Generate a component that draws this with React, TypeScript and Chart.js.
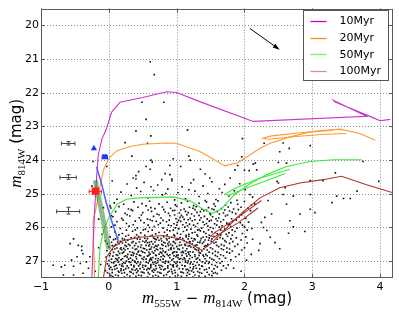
import React, { useEffect, useRef } from "react";
import { Chart, registerables } from "chart.js";
Chart.register(...registerables);

type P = [number, number];

const xTicks = [-1, 0, 1, 2, 3, 4];
const yTicks = [20, 21, 22, 23, 24, 25, 26, 27];
const xRange = [-1, 4.19];
const yRange = [19.5, 27.5];

const legendLabels = ["10Myr", "20Myr", "50Myr", "100Myr"];
const legendColors = ["#cc00cc", "#ff8a10", "#66ff55", "#d09090"];
const lineColors = ["#cc33cc", "#ff9a30", "#3ee83e", "#b0302e"];

const iso10: P[] = [[-0.25,27.5],[-0.23,26.5],[-0.21,25.5],[-0.18,24.5],[-0.155,23.84],[-0.1,23.36],[-0.04,23.1],[0.04,22.58],[0.165,22.28],[0.5,22.14],[0.85,21.97],[1.0,21.99],[1.35,22.27],[2.13,22.85],[3.8,22.7],[3.31,22.22],[3.33,22.27],[3.92,22.76],[4.0,22.83],[4.15,22.79]];
const iso20: P[] = [[-0.21,27.5],[-0.22,26.6],[-0.23,25.75],[-0.2,25.55],[-0.15,25.0],[-0.08,24.3],[0.0,23.95],[0.12,23.72],[0.3,23.6],[0.5,23.53],[0.85,23.49],[1.0,23.5],[1.35,23.75],[1.55,23.98],[1.71,24.17],[1.9,24.08],[2.08,23.85],[2.23,23.65],[2.38,23.5],[2.67,23.31],[3.02,23.14],[3.41,23.08],[3.7,23.21],[3.93,23.41]];
const iso20Loop: P[] = [[3.3,23.12],[2.9,23.17],[2.4,23.28],[2.27,23.35],[2.35,23.38],[2.8,23.29],[3.2,23.23],[3.5,23.21]];
const iso50: P[] = [[-0.155,27.5],[-0.13,26.6],[-0.08,26.1],[0.0,25.7],[0.12,25.31],[0.26,25.16],[0.46,25.12],[0.95,25.09],[1.2,25.21],[1.39,25.46],[1.52,25.58],[1.66,25.45],[1.84,25.05],[2.08,24.7],[2.33,24.43],[2.62,24.19],[2.97,24.04],[3.31,23.99],[3.73,23.99]];
const iso50Loop: P[] = [[2.67,24.27],[2.2,24.55],[1.85,24.85],[1.72,25.0],[1.76,25.05],[2.0,24.85],[2.4,24.55],[2.6,24.4]];
const iso100: P[] = [[-0.08,27.5],[-0.03,26.87],[0.07,26.58],[0.21,26.39],[0.46,26.29],[0.8,26.24],[1.05,26.34],[1.25,26.53],[1.37,26.68],[1.49,26.5],[1.72,26.05],[1.97,25.55],[2.23,25.12],[2.52,24.82],[2.82,24.68],[3.16,24.58],[3.43,24.48],[3.8,24.73],[4.19,24.97]];
const iso100Loop: P[] = [[2.25,25.2],[1.9,25.7],[1.6,26.1],[1.5,26.25],[1.56,26.28],[1.9,25.87],[2.2,25.42]];
const blueTrack: P[] = [[-0.18,24.2],[-0.1,24.75],[-0.04,25.25],[0.05,25.85],[0.14,26.4]];
const greenBand: P[] = [[-0.2,24.6],[-0.1,25.6],[0.0,26.65]];

const refErrX = [-0.6, -0.6, -0.6];
const refErrY = [23.5, 24.5, 25.5];
const refErrDx = [0.1, 0.12, 0.17];
const refErrDy = [0.05, 0.07, 0.1];

const redStar: P = [-0.2, 24.92];
const redStarErr: P = [0.09, 0.05];
const blueSquare: P = [-0.06, 23.9];
const blueSquareErr: P = [0.04, 0.03];
const blueTriangle: P = [-0.22, 23.65];

const arrowFrom: P = [2.08, 20.09];
const arrowTo: P = [2.52, 20.72];

const starsSparse: P[] = [
[0.61,21.08],[0.67,21.46],[0.49,22.28],[0.81,22.28],[0.55,22.79],[0.40,23.13],[0.62,23.28],[0.24,23.48],[0.57,23.5],[1.16,23.11],[1.97,23.36],[0.34,23.88],[1.18,23.88],[1.2,24.0],[0.95,23.96],[0.62,24.0],[0.64,24.06],[0.55,24.19],[0.90,24.16],[1.06,24.19],[1.35,24.27],[0.61,24.27],[0.44,24.34],[0.83,24.4],[0.90,24.43],[1.42,24.41],[0.40,24.46],[1.49,24.53],[1.79,24.53],[1.86,24.29],[1.9,24.16],[2.13,24.12],[2.18,24.29],[2.07,24.31],[0.40,24.56],[0.78,24.58],[1.25,24.58],[0.93,24.56],[-0.23,24.04],[-0.03,24.19],[0.36,24.53],[-0.25,24.77],[-0.15,25.75],[-0.08,25.41],[0.04,25.65],[0.02,25.36],[1.96,23.9],[2.0,24.3],
[2.29,23.5],[2.57,23.49],[2.52,23.75],[2.66,23.65],[2.97,23.57],[2.16,24.09],[2.5,24.07],[2.62,24.09],[3.75,24.04],[3.34,24.38],[3.98,24.63],[2.97,24.61],[3.16,24.61],[2.5,24.68],[2.6,24.82],[3.66,24.92],[3.36,25.07],[2.72,25.07],[3.46,25.14],[3.56,25.14],[3.29,25.26],[3.04,25.56],[2.82,25.6],[2.72,25.98],[2.89,26.12],[2.97,25.46],[2.67,25.8],[2.62,25.31],[2.57,25.02],[2.97,25.02],[2.48,24.63],[2.08,25.02],[2.38,26.29],[2.52,26.63],[2.23,26.48],[2.03,26.97],[2.21,26.68],[1.84,27.21],[1.54,27.36],[2.65,26.17],[2.33,26.09],[2.3,25.7],[2.4,25.6],[2.28,26.0],[2.15,25.3],[2.25,25.85],[2.12,26.35],[2.1,26.8],[1.95,27.3],[2.45,26.45],[2.35,25.2],
[-0.52,26.34],[-0.45,26.53],[-0.4,26.68],[-0.38,26.78],[-0.47,26.87],[-0.55,26.97],[-0.65,27.12],[-0.52,27.15],[-0.42,27.07],[-0.33,27.02],[-0.67,27.41],[-0.52,27.41],[-0.38,27.36],[-0.3,27.21],[-0.4,26.56],[-0.28,26.87],[-0.57,26.48],[-0.7,27.17],[-0.82,27.12],[-0.2,27.3],[-0.15,26.6],[-0.12,27.1],[-0.1,26.2]
];

const starsCloud: P[] = [
[0.05,24.62],[0.18,24.95],[0.27,24.71],[0.33,25.05],[0.41,24.83],[0.52,24.66],[0.58,25.12],[0.66,24.9],[0.72,24.74],[0.79,25.03],[0.87,24.86],[0.93,24.61],[1.02,24.97],[1.08,24.79],[1.13,25.15],[1.21,24.68],[1.27,24.92],[1.33,25.08],[1.39,24.77],[1.46,24.99],[1.52,24.64],[1.58,25.17],[1.63,24.85],[1.71,24.72],[1.77,25.06],[1.85,24.91],[1.93,24.7],[2.01,24.88],[2.12,25.1],[0.12,25.16],[0.47,24.93],[0.97,25.18],[1.18,24.88],[1.42,25.2],[1.67,24.96],[1.89,25.19],[0.62,24.79],[0.84,24.99],
[0.08,25.27],[0.22,25.31],[0.37,25.24],[0.49,25.29],[0.6,25.22],[0.74,25.3],[0.86,25.25],[0.98,25.33],[1.07,25.27],[1.16,25.22],[1.25,25.35],[1.33,25.28],[1.44,25.24],[1.55,25.3],[1.61,25.21],[1.72,25.33],[1.8,25.26],[1.9,25.31],[2.0,25.23],[2.1,25.34],
[0.03,25.42],[0.15,25.38],[0.29,25.45],[0.43,25.4],[0.55,25.36],[0.68,25.44],[0.79,25.39],[0.91,25.43],[1.0,25.37],[1.11,25.45],[1.19,25.4],[1.29,25.38],[1.37,25.46],[1.47,25.41],[1.57,25.37],[1.66,25.44],[1.76,25.39],[1.84,25.45],[1.95,25.4],[2.05,25.43],[0.62,25.41],[1.24,25.43],[1.52,25.45],
[0.1,25.53],[0.24,25.58],[0.35,25.5],[0.5,25.56],[0.63,25.52],[0.71,25.6],[0.83,25.54],[0.94,25.5],[1.04,25.57],[1.13,25.52],[1.22,25.6],[1.3,25.55],[1.4,25.5],[1.49,25.58],[1.6,25.53],[1.69,25.57],[1.78,25.51],[1.87,25.59],[1.99,25.54],[2.09,25.5],[0.88,25.58],[1.17,25.56],[1.35,25.53],[1.63,25.6],[1.82,25.55],
[0.06,25.68],[0.19,25.73],[0.31,25.66],[0.45,25.71],[0.57,25.75],[0.66,25.67],[0.77,25.72],[0.9,25.65],[0.99,25.74],[1.09,25.69],[1.2,25.73],[1.26,25.66],[1.36,25.71],[1.45,25.75],[1.53,25.68],[1.62,25.72],[1.72,25.66],[1.81,25.74],[1.92,25.69],[2.02,25.73],[1.05,25.7],[1.41,25.67],[1.58,25.74],[1.11,25.76],
[0.12,25.83],[0.26,25.88],[0.39,25.81],[0.52,25.86],[0.64,25.8],[0.76,25.87],[0.85,25.83],[0.96,25.89],[1.06,25.82],[1.14,25.86],[1.23,25.8],[1.31,25.88],[1.39,25.84],[1.48,25.81],[1.56,25.89],[1.65,25.83],[1.74,25.87],[1.83,25.81],[1.94,25.86],[2.06,25.84],[0.7,25.82],[1.01,25.85],[1.19,25.9],[1.44,25.88],[1.6,25.8],[1.78,25.9],
[0.04,25.98],[0.17,26.03],[0.3,25.96],[0.42,26.01],[0.54,26.05],[0.67,25.97],[0.8,26.02],[0.92,25.95],[1.03,26.04],[1.12,25.99],[1.21,26.05],[1.28,25.97],[1.37,26.02],[1.46,25.96],[1.54,26.03],[1.63,25.99],[1.71,26.05],[1.8,25.97],[1.89,26.02],[2.0,25.98],[0.6,26.0],[0.98,26.01],[1.16,25.95],[1.33,26.06],[1.5,26.0],[1.67,25.95],[2.11,26.03],
[0.09,26.13],[0.2,26.18],[0.35,26.11],[0.47,26.16],[0.58,26.12],[0.69,26.19],[0.82,26.14],[0.9,26.1],[1.01,26.17],[1.1,26.12],[1.18,26.2],[1.27,26.14],[1.35,26.1],[1.43,26.18],[1.52,26.13],[1.6,26.19],[1.69,26.11],[1.77,26.16],[1.86,26.12],[1.97,26.18],[0.74,26.15],[1.06,26.2],[1.23,26.16],[1.4,26.13],[1.57,26.15],[1.73,26.2],
[0.02,26.28],[0.13,26.3],[0.25,26.26],[0.33,26.31],[0.44,26.27],[0.53,26.32],[0.61,26.26],[0.72,26.3],[0.81,26.27],[0.89,26.32],[0.97,26.25],[1.05,26.3],[1.14,26.28],[1.22,26.32],[1.31,26.26],[1.39,26.29],[1.48,26.31],[1.55,26.27],[1.64,26.3],[1.75,26.26],[1.88,26.31],[2.02,26.28],[0.38,26.29],[0.66,26.31],[0.93,26.29],[1.18,26.26],[1.44,26.28],
[-0.05,26.4],[0.07,26.36],[0.17,26.41],[0.28,26.38],[0.36,26.42],[0.46,26.35],[0.55,26.39],[0.63,26.42],[0.7,26.36],[0.78,26.4],[0.86,26.37],[0.95,26.42],[1.03,26.35],[1.11,26.39],[1.19,26.42],[1.27,26.36],[1.35,26.4],[1.42,26.37],[1.51,26.41],[1.6,26.35],[1.71,26.39],[1.83,26.42],[1.95,26.37],[0.23,26.35],[0.5,26.41],[0.74,26.38],[0.99,26.36],[1.24,26.4],[1.47,26.38],
[-0.02,26.48],[0.1,26.51],[0.2,26.46],[0.29,26.5],[0.4,26.47],[0.48,26.52],[0.57,26.45],[0.65,26.49],[0.73,26.52],[0.83,26.46],[0.91,26.5],[0.98,26.47],[1.07,26.52],[1.15,26.45],[1.23,26.49],[1.3,26.52],[1.38,26.47],[1.46,26.5],[1.55,26.46],[1.66,26.51],[1.78,26.47],[1.9,26.5],[2.04,26.46],[0.34,26.45],[0.6,26.51],[0.87,26.48],[1.12,26.5],[1.34,26.45],[0.15,26.48],[0.78,26.5],
[0.0,26.58],[0.08,26.55],[0.18,26.6],[0.26,26.56],[0.35,26.61],[0.43,26.57],[0.51,26.62],[0.59,26.55],[0.67,26.59],[0.76,26.62],[0.84,26.56],[0.92,26.6],[1.0,26.57],[1.09,26.61],[1.17,26.55],[1.25,26.59],[1.33,26.62],[1.41,26.56],[1.5,26.6],[1.62,26.57],[1.74,26.61],[1.86,26.56],[2.0,26.6],[0.22,26.62],[0.47,26.59],[0.71,26.56],[0.96,26.62],[1.21,26.58],[1.45,26.55],[0.12,26.61],[0.63,26.58],
[-0.03,26.69],[0.05,26.66],[0.14,26.71],[0.24,26.67],[0.31,26.72],[0.39,26.65],[0.48,26.7],[0.56,26.67],[0.64,26.72],[0.72,26.66],[0.8,26.7],[0.88,26.67],[0.97,26.72],[1.04,26.65],[1.13,26.69],[1.2,26.72],[1.29,26.66],[1.37,26.7],[1.45,26.67],[1.57,26.71],[1.69,26.66],[1.82,26.7],[1.96,26.67],[0.19,26.66],[0.44,26.7],[0.68,26.69],[0.92,26.65],[1.09,26.71],[1.32,26.68],[0.6,26.65],[0.84,26.72],
[0.02,26.78],[0.11,26.81],[0.2,26.76],[0.28,26.8],[0.37,26.77],[0.45,26.82],[0.53,26.75],[0.61,26.79],[0.69,26.82],[0.78,26.76],[0.86,26.8],[0.94,26.77],[1.02,26.82],[1.1,26.75],[1.18,26.79],[1.27,26.81],[1.35,26.76],[1.43,26.8],[1.53,26.77],[1.65,26.81],[1.78,26.76],[1.92,26.8],[0.16,26.77],[0.41,26.79],[0.66,26.76],[0.9,26.81],[1.14,26.78],[1.39,26.82],[0.33,26.82],[0.74,26.79],
[-0.04,26.88],[0.06,26.85],[0.15,26.9],[0.23,26.86],[0.32,26.91],[0.4,26.87],[0.49,26.92],[0.57,26.85],[0.65,26.89],[0.73,26.92],[0.82,26.86],[0.9,26.9],[0.99,26.87],[1.06,26.92],[1.15,26.85],[1.23,26.89],[1.31,26.91],[1.4,26.86],[1.49,26.9],[1.6,26.86],[1.72,26.91],[1.87,26.87],[0.27,26.88],[0.52,26.88],[0.77,26.87],[1.02,26.89],[1.27,26.86],[0.1,26.92],[0.62,26.91],[1.11,26.9],
[0.0,26.98],[0.09,27.01],[0.18,26.96],[0.26,27.0],[0.35,26.97],[0.43,27.02],[0.51,26.95],[0.6,26.99],[0.68,27.02],[0.76,26.96],[0.84,27.0],[0.93,26.97],[1.01,27.02],[1.09,26.95],[1.17,26.99],[1.26,27.01],[1.34,26.96],[1.44,27.0],[1.55,26.97],[1.67,27.01],[1.8,26.96],[0.13,26.97],[0.38,27.0],[0.63,26.96],[0.88,27.01],[1.13,26.98],[1.38,27.02],[0.3,27.02],[0.72,26.98],
[-0.02,27.08],[0.07,27.05],[0.16,27.1],[0.24,27.06],[0.33,27.11],[0.41,27.07],[0.5,27.12],[0.58,27.05],[0.66,27.09],[0.74,27.12],[0.83,27.06],[0.91,27.1],[0.99,27.07],[1.08,27.12],[1.16,27.05],[1.24,27.09],[1.33,27.11],[1.42,27.06],[1.52,27.1],[1.64,27.06],[1.76,27.11],[0.2,27.08],[0.46,27.09],[0.7,27.07],[0.95,27.11],[1.2,27.08],[1.47,27.07],[0.11,27.12],[0.62,27.1],
[0.03,27.18],[0.12,27.21],[0.21,27.16],[0.29,27.2],[0.37,27.17],[0.46,27.22],[0.54,27.15],[0.62,27.19],[0.7,27.22],[0.79,27.16],[0.87,27.2],[0.95,27.17],[1.04,27.22],[1.12,27.15],[1.2,27.19],[1.29,27.21],[1.38,27.16],[1.48,27.2],[1.6,27.17],[1.73,27.21],[0.25,27.22],[0.5,27.18],[0.75,27.19],[1.0,27.16],[1.25,27.17],[0.08,27.16],[0.58,27.21],
[-0.05,27.28],[0.05,27.25],[0.14,27.3],[0.22,27.26],[0.31,27.31],[0.39,27.27],[0.48,27.32],[0.56,27.25],[0.64,27.29],[0.72,27.32],[0.81,27.26],[0.89,27.3],[0.97,27.27],[1.06,27.32],[1.14,27.25],[1.22,27.29],[1.31,27.31],[1.41,27.26],[1.52,27.3],[1.66,27.27],[0.18,27.28],[0.43,27.29],[0.68,27.27],[0.93,27.31],[1.18,27.28],[0.35,27.25],
[0.01,27.38],[0.1,27.41],[0.19,27.36],[0.27,27.4],[0.36,27.37],[0.44,27.42],[0.52,27.35],[0.6,27.39],[0.69,27.42],[0.77,27.36],[0.85,27.4],[0.94,27.37],[1.02,27.42],[1.1,27.35],[1.19,27.39],[1.27,27.41],[1.37,27.36],[1.48,27.4],[1.6,27.37],[0.06,27.46],[0.23,27.47],[0.4,27.45],[0.57,27.47],[0.73,27.45],[0.9,27.47],[1.07,27.45],[1.24,27.47],[1.42,27.45]
];

const starsCore: P[] = [
[0.33,25.47],[0.58,25.48],[0.81,25.47],[1.06,25.48],[1.27,25.47],[1.44,25.49],[1.71,25.48],[1.91,25.47],[0.97,25.49],[1.55,25.47],
[0.27,25.62],[0.48,25.63],[0.74,25.62],[0.97,25.63],[1.15,25.62],[1.33,25.64],[1.5,25.62],[1.75,25.63],[1.96,25.62],[1.07,25.64],
[0.21,25.78],[0.47,25.79],[0.61,25.77],[0.89,25.78],[1.03,25.79],[1.17,25.77],[1.34,25.78],[1.51,25.79],[1.69,25.77],[1.88,25.78],[0.8,25.79],[1.27,25.77],
[0.09,25.93],[0.36,25.92],[0.58,25.93],[0.73,25.92],[0.88,25.93],[1.09,25.92],[1.25,25.93],[1.41,25.92],[1.59,25.93],[1.76,25.92],[1.97,25.93],[1.0,25.93],
[0.26,26.08],[0.51,26.07],[0.64,26.08],[0.86,26.07],[0.95,26.08],[1.15,26.07],[1.31,26.08],[1.47,26.07],[1.65,26.08],[1.82,26.07],[2.04,26.08],[0.39,26.07],
[0.15,26.22],[0.29,26.23],[0.41,26.22],[0.64,26.23],[0.86,26.22],[1.14,26.23],[1.3,26.22],[1.48,26.23],[1.65,26.22],[1.82,26.23],[0.53,26.23],[0.96,26.22],
[0.1,26.34],[0.2,26.33],[0.42,26.34],[0.57,26.33],[0.68,26.34],[0.85,26.33],[1.01,26.34],[1.09,26.33],[1.26,26.34],[1.36,26.33],[1.52,26.34],[1.68,26.33],[1.8,26.34],[0.77,26.33],[1.17,26.34],
[0.04,26.44],[0.13,26.43],[0.25,26.44],[0.45,26.43],[0.53,26.44],[0.68,26.43],[0.81,26.44],[0.89,26.43],[1.05,26.44],[1.2,26.43],[1.31,26.44],[1.4,26.43],[1.58,26.44],[1.73,26.43],[0.6,26.44],[0.96,26.43],
[0.05,26.54],[0.24,26.53],[0.38,26.54],[0.55,26.53],[0.69,26.54],[0.8,26.53],[0.94,26.54],[1.04,26.53],[1.19,26.54],[1.28,26.53],[1.43,26.54],[1.59,26.53],[1.7,26.54],[0.31,26.53],[0.88,26.54],[1.13,26.53],
[0.09,26.64],[0.28,26.63],[0.41,26.64],[0.53,26.63],[0.7,26.64],[0.79,26.63],[1.02,26.64],[1.15,26.63],[1.27,26.64],[1.4,26.63],[1.53,26.64],[1.66,26.63],[0.17,26.63],[0.62,26.64],[0.91,26.63],[1.78,26.64],
[0.07,26.74],[0.22,26.73],[0.35,26.74],[0.5,26.73],[0.59,26.74],[0.76,26.73],[0.83,26.74],[1.0,26.73],[1.07,26.74],[1.24,26.73],[1.33,26.74],[1.48,26.73],[1.61,26.74],[1.74,26.73],[0.43,26.73],[0.95,26.74],[1.17,26.73],
[0.01,26.84],[0.13,26.83],[0.25,26.84],[0.36,26.83],[0.47,26.84],[0.59,26.83],[0.7,26.84],[0.8,26.83],[0.96,26.84],[1.08,26.83],[1.2,26.84],[1.33,26.83],[1.45,26.84],[1.57,26.83],[1.69,26.84],[0.88,26.84],[1.0,26.83],
[0.04,26.94],[0.2,26.93],[0.29,26.94],[0.41,26.93],[0.55,26.94],[0.69,26.93],[0.8,26.94],[0.95,26.93],[1.04,26.94],[1.19,26.93],[1.29,26.94],[1.42,26.93],[1.52,26.94],[1.63,26.93],[0.12,26.94],[0.61,26.94],[1.12,26.93],
[0.04,27.04],[0.14,27.03],[0.22,27.04],[0.39,27.03],[0.47,27.04],[0.55,27.03],[0.65,27.04],[0.8,27.03],[0.88,27.04],[0.97,27.03],[1.05,27.04],[1.21,27.03],[1.3,27.04],[1.48,27.03],[1.59,27.04],[0.32,27.04],[0.72,27.04],[1.13,27.03],
[0.0,27.14],[0.1,27.13],[0.27,27.14],[0.37,27.13],[0.44,27.14],[0.54,27.13],[0.69,27.14],[0.77,27.13],[0.87,27.14],[1.01,27.13],[1.12,27.14],[1.28,27.13],[1.37,27.14],[1.57,27.13],[1.69,27.14],[0.19,27.14],[0.62,27.14],[0.94,27.13],
[0.09,27.24],[0.18,27.23],[0.34,27.24],[0.41,27.23],[0.52,27.24],[0.6,27.23],[0.66,27.24],[0.83,27.23],[0.92,27.24],[1.09,27.23],[1.16,27.24],[1.34,27.23],[1.44,27.24],[1.55,27.23],[0.01,27.23],[0.77,27.24],[1.24,27.23],
[0.05,27.34],[0.15,27.33],[0.23,27.34],[0.33,27.33],[0.41,27.34],[0.5,27.33],[0.58,27.34],[0.66,27.33],[0.75,27.34],[0.87,27.33],[0.98,27.34],[1.08,27.33],[1.16,27.34],[1.25,27.33],[1.34,27.34],[1.45,27.33],[1.57,27.34],[-0.02,27.34],
[0.14,27.43],[0.31,27.44],[0.48,27.43],[0.65,27.44],[0.81,27.43],[0.98,27.44],[1.15,27.43],[1.33,27.44],[1.52,27.43],[0.03,27.43]
];

const toXY = (pts: P[]) => pts.map(([x, y]) => ({ x, y }));

function drawParts(ctx: CanvasRenderingContext2D, parts: { t: string; f: string; dy: number }[], cx: number, cy: number, rot: boolean) {
  ctx.save();
  ctx.translate(cx, cy);
  if (rot) ctx.rotate(-Math.PI / 2);
  let total = 0;
  const widths = parts.map((p) => { ctx.font = p.f; const w = ctx.measureText(p.t).width; total += w; return w; });
  let x = -total / 2;
  ctx.fillStyle = "#000";
  ctx.textBaseline = "alphabetic";
  ctx.textAlign = "left";
  parts.forEach((p, i) => { ctx.font = p.f; ctx.fillText(p.t, x, p.dy); x += widths[i]; });
  ctx.restore();
}

const overlay = {
  id: "overlay",
  beforeDatasetsDraw(chart: any) {
    const { ctx, chartArea: a, scales } = chart;
    const xs = scales.x, ys = scales.y;
    ctx.save();
    ctx.strokeStyle = "#8a8a8a";
    ctx.lineWidth = 1;
    ctx.setLineDash([1, 2]);
    ctx.beginPath();
    xTicks.forEach((v) => { const p = Math.round(xs.getPixelForValue(v)) + 0.5; ctx.moveTo(p, a.top); ctx.lineTo(p, a.bottom); });
    yTicks.forEach((v) => { const p = Math.round(ys.getPixelForValue(v)) + 0.5; ctx.moveTo(a.left, p); ctx.lineTo(a.right, p); });
    ctx.stroke();
    ctx.restore();
  },
  afterDatasetsDraw(chart: any) {
    const { ctx, scales } = chart;
    const xs = scales.x, ys = scales.y;
    const X = (v: number) => xs.getPixelForValue(v);
    const Y = (v: number) => ys.getPixelForValue(v);
    ctx.save();
    const bar = (cx: number, cy: number, dx: number, dy: number, color: string) => {
      const px = Math.round(X(cx)) + 0.5, py = Math.round(Y(cy)) + 0.5;
      const x0 = X(cx - dx), x1 = X(cx + dx), y0 = Y(cy - dy), y1 = Y(cy + dy);
      ctx.strokeStyle = color;
      ctx.lineWidth = 1;
      ctx.beginPath();
      ctx.moveTo(x0, py); ctx.lineTo(x1, py);
      ctx.moveTo(px, y0); ctx.lineTo(px, y1);
      ctx.moveTo(x0, py - 2); ctx.lineTo(x0, py + 2);
      ctx.moveTo(x1, py - 2); ctx.lineTo(x1, py + 2);
      ctx.moveTo(px - 2, y0); ctx.lineTo(px + 2, y0);
      ctx.moveTo(px - 2, y1); ctx.lineTo(px + 2, y1);
      ctx.stroke();
    };
    refErrX.forEach((v, i) => bar(v, refErrY[i], refErrDx[i], refErrDy[i], "#444"));
    bar(redStar[0], redStar[1], redStarErr[0], redStarErr[1], "#ff2020");
    bar(blueSquare[0], blueSquare[1], blueSquareErr[0], blueSquareErr[1], "#1a3cff");

    const ax0 = X(arrowFrom[0]), ay0 = Y(arrowFrom[1]), ax1 = X(arrowTo[0]), ay1 = Y(arrowTo[1]);
    const ang = Math.atan2(ay1 - ay0, ax1 - ax0);
    ctx.strokeStyle = "#000";
    ctx.fillStyle = "#000";
    ctx.lineWidth = 1;
    ctx.beginPath();
    ctx.moveTo(ax0, ay0);
    ctx.lineTo(ax1 - 5 * Math.cos(ang), ay1 - 5 * Math.sin(ang));
    ctx.stroke();
    ctx.beginPath();
    ctx.moveTo(ax1, ay1);
    ctx.lineTo(ax1 - 7 * Math.cos(ang) + 2.2 * Math.sin(ang), ay1 - 7 * Math.sin(ang) - 2.2 * Math.cos(ang));
    ctx.lineTo(ax1 - 7 * Math.cos(ang) - 2.2 * Math.sin(ang), ay1 - 7 * Math.sin(ang) + 2.2 * Math.cos(ang));
    ctx.closePath();
    ctx.fill();
    ctx.restore();
  },
  afterDraw(chart: any) {
    const { ctx, chartArea: a, scales } = chart;
    const xs = scales.x, ys = scales.y;
    ctx.save();
    ctx.strokeStyle = "#5a5a5a";
    ctx.lineWidth = 1;
    ctx.setLineDash([]);
    ctx.strokeRect(Math.round(a.left) + 0.5, Math.round(a.top) + 0.5, Math.round(a.right - a.left) - 1, Math.round(a.bottom - a.top) - 1);
    ctx.beginPath();
    xTicks.forEach((v) => {
      const p = Math.round(xs.getPixelForValue(v)) + 0.5;
      ctx.moveTo(p, a.bottom); ctx.lineTo(p, a.bottom - 4);
      ctx.moveTo(p, a.top); ctx.lineTo(p, a.top + 4);
    });
    yTicks.forEach((v) => {
      const p = Math.round(ys.getPixelForValue(v)) + 0.5;
      ctx.moveTo(a.left, p); ctx.lineTo(a.left + 4, p);
      ctx.moveTo(a.right, p); ctx.lineTo(a.right - 4, p);
    });
    ctx.stroke();

    const lx = 303.5, ly = 10.5, lw = 85, lh = 70;
    ctx.fillStyle = "#fff";
    ctx.fillRect(lx, ly, lw, lh);
    ctx.strokeStyle = "#555";
    ctx.strokeRect(lx, ly, lw, lh);
    ctx.font = "11px 'DejaVu Sans'";
    ctx.textBaseline = "middle";
    ctx.textAlign = "left";
    legendLabels.forEach((lab, i) => {
      const yy = ly + 10.5 + i * 16.7;
      ctx.strokeStyle = legendColors[i];
      ctx.lineWidth = 1.3;
      ctx.beginPath();
      ctx.moveTo(lx + 7, Math.round(yy) + 0.5);
      ctx.lineTo(lx + 23, Math.round(yy) + 0.5);
      ctx.stroke();
      ctx.fillStyle = "#000";
      ctx.fillText(lab, lx + 36, yy + 0.5);
    });

    const cxm = (a.left + a.right) / 2;
    const mf = "italic 17px 'Liberation Serif'";
    const sf = "11px 'Liberation Serif'";
    const tf = "15px 'DejaVu Sans'";
    drawParts(ctx, [
      { t: "m", f: mf, dy: 0 }, { t: "555W", f: sf, dy: 4 }, { t: " \u2212 ", f: tf, dy: 0 },
      { t: "m", f: mf, dy: 0 }, { t: "814W", f: sf, dy: 4 }, { t: " (mag)", f: tf, dy: 0 },
    ], cxm, 303, false);
    drawParts(ctx, [
      { t: "m", f: mf, dy: 0 }, { t: "814W", f: sf, dy: 4 }, { t: " (mag)", f: tf, dy: 0 },
    ], 21, (a.top + a.bottom) / 2, true);
    ctx.restore();
  },
};

export default function App() {
  const ref = useRef<HTMLCanvasElement | null>(null);
  useEffect(() => {
    document.body.style.margin = "0";
    const canvas = ref.current!;
    const lineDs = (label: string, pts: P[], color: string, width: number) => ({
      type: "scatter" as const,
      label,
      data: toXY(pts),
      showLine: true,
      borderColor: color,
      backgroundColor: color,
      borderWidth: width,
      pointRadius: 0,
      tension: 0,
      order: 5,
    });
    const chart = new Chart(canvas, {
      type: "scatter",
      data: {
        datasets: [
          { label: "red", data: toXY([redStar]), pointStyle: "rect", pointRadius: 5, backgroundColor: "#ff1a1a", borderColor: "#ff1a1a", borderWidth: 0, order: 1 } as any,
          { label: "blueSq", data: toXY([blueSquare]), pointStyle: "rect", pointRadius: 3.6, backgroundColor: "#1a3cff", borderColor: "#1a3cff", borderWidth: 0, order: 1 } as any,
          { label: "blueTri", data: toXY([blueTriangle]), pointStyle: "triangle", pointRadius: 3.6, backgroundColor: "#1a3cff", borderColor: "#1a3cff", borderWidth: 0, order: 1 } as any,
          lineDs("band", greenBand, "rgba(50,130,50,0.55)", 5),
          lineDs("blue", blueTrack, "#4a62ff", 1.5),
          lineDs(legendLabels[0], iso10, lineColors[0], 1.1),
          lineDs(legendLabels[1], iso20, lineColors[1], 1.1),
          lineDs("20loop", iso20Loop, lineColors[1], 1.1),
          lineDs(legendLabels[2], iso50, lineColors[2], 1.1),
          lineDs("50loop", iso50Loop, lineColors[2], 1.1),
          lineDs(legendLabels[3], iso100, lineColors[3], 1.1),
          lineDs("100loop", iso100Loop, lineColors[3], 1.1),
          { label: "stars", data: toXY(starsSparse.concat(starsCloud, starsCore)), pointStyle: "rect", pointRadius: 1.15, backgroundColor: "#111", borderWidth: 0, order: 10 } as any,
        ],
      },
      options: {
        animation: false,
        responsive: false,
        devicePixelRatio: 1,
        layout: { padding: { left: 0, right: 6, top: 5, bottom: 0 } },
        plugins: { legend: { display: false }, tooltip: { enabled: false } },
        scales: {
          x: {
            type: "linear",
            min: xRange[0],
            max: xRange[1],
            afterBuildTicks: (s: any) => { s.ticks = xTicks.map((v) => ({ value: v })); },
            afterFit: (s: any) => { s.height = 38; },
            grid: { display: false, drawTicks: false },
            border: { display: false },
            ticks: {
              padding: 3,
              color: "#000",
              font: { family: "'DejaVu Sans'", size: 11 },
              callback: (v: any) => (Number(v) < 0 ? "\u2212" + Math.abs(Number(v)) : String(v)),
            },
          },
          y: {
            type: "linear",
            reverse: true,
            min: yRange[0],
            max: yRange[1],
            afterBuildTicks: (s: any) => { s.ticks = yTicks.map((v) => ({ value: v })); },
            afterFit: (s: any) => { s.width = 41; },
            grid: { display: false, drawTicks: false },
            border: { display: false },
            ticks: {
              padding: 2,
              color: "#000",
              font: { family: "'DejaVu Sans'", size: 11 },
              callback: (v: any) => String(v),
            },
          },
        },
      },
      plugins: [overlay],
    } as any);
    return () => chart.destroy();
  }, []);
  return (
    <div style={{ position: "fixed", left: 0, top: 0, width: 399, height: 316, background: "#fff" }}>
      <canvas ref={ref} width={399} height={316} style={{ width: 399, height: 316, display: "block" }} />
    </div>
  );
}
